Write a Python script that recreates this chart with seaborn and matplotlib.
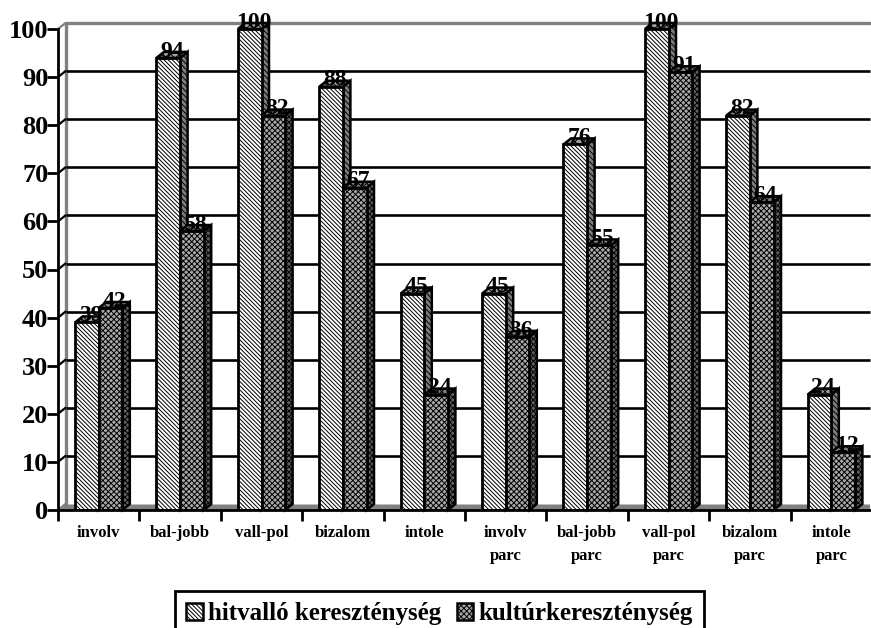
import matplotlib
matplotlib.use("Agg")
import matplotlib.pyplot as plt
from matplotlib.patches import Polygon
import pandas as pd
import seaborn as sns

categories = ["involv", "bal-jobb", "vall-pol", "bizalom", "intole",
              "involv\nparc", "bal-jobb\nparc", "vall-pol\nparc", "bizalom\nparc", "intole\nparc"]
series_names = ["hitvalló kereszténység", "kultúrkereszténység"]
hitvallo = [39, 94, 100, 88, 45, 45, 76, 100, 82, 24]
kultur = [42, 58, 82, 67, 24, 36, 55, 91, 64, 12]

sns.set_theme(style="white")
plt.rcParams["font.family"] = ["Liberation Serif", "DejaVu Serif"]
plt.rcParams["font.weight"] = "bold"
plt.rcParams["hatch.linewidth"] = 0.7
plt.rcParams["text.color"] = "black"

df = pd.DataFrame({
    "cat": categories * 2,
    "val": hitvallo + kultur,
    "series": [series_names[0]] * 10 + [series_names[1]] * 10,
})

W, H = 871, 628
fig = plt.figure(figsize=(W / 100, H / 100), dpi=100, facecolor="white")
ax = fig.add_axes([58 / W, 1 - 510 / H, 814 / W, 481 / H])

sns.barplot(data=df, x="cat", y="val", hue="series", order=categories, hue_order=series_names,
            palette=["white", "#a8a8a8"], width=0.58, gap=0, dodge=True, saturation=1,
            edgecolor="black", linewidth=2, ax=ax, legend=True, zorder=4)

ax.set_xlim(-0.5, 9.5)
ax.set_ylim(0, 100)
ax.set_xlabel("")
ax.set_ylabel("")

dx = 7.5 / 81.4
dy = 6 / 4.81
gray = "#808080"
x_end = 9.47

# back wall, floor and gridlines
ax.fill_between([-0.5, -0.5 + dx, x_end, x_end], [0, dy, dy, 0], color=gray, zorder=1, lw=0)
for v in range(10, 100, 10):
    ax.plot([-0.5 + dx, x_end], [v + dy, v + dy], color="black", lw=1.9, zorder=1.5, solid_capstyle="butt")
    ax.plot([-0.5, -0.5 + dx], [v, v + dy], color="black", lw=1.6, zorder=1.6, clip_on=False)
ax.plot([-0.5 + dx, -0.5 + dx], [0 + dy, 100 + dy], color=gray, lw=2.4, zorder=1.4, clip_on=False)
ax.plot([-0.5 + dx, x_end], [100 + dy, 100 + dy], color=gray, lw=2.4, zorder=1.4, clip_on=False)
ax.plot([-0.5, -0.5 + dx], [100, 100 + dy], color=gray, lw=1.6, zorder=1.4, clip_on=False)
ax.plot([-0.5, -0.5 + dx], [0, dy], color=gray, lw=1.6, zorder=1.4, clip_on=False)

styles = [
    dict(front=("white", "\\" * 8), side=("#7c7c7c", "\\" * 6), top=("#a0a0a0", "x" * 4), z=3),
    dict(front=("#a8a8a8", "x" * 6), side=("#606060", "x" * 6), top=("#808080", "x" * 4), z=4),
]
for container, st in zip(ax.containers, styles):
    for bar in container:
        x0, w, h = bar.get_x(), bar.get_width(), bar.get_height()
        x1 = x0 + w
        bar.set_facecolor(st["front"][0])
        bar.set_hatch(st["front"][1])
        bar.set_zorder(st["z"] + 0.5)
        side = Polygon([(x1, 0), (x1 + dx, dy), (x1 + dx, h + dy), (x1, h)], closed=True,
                       facecolor=st["side"][0], hatch=st["side"][1], edgecolor="black", lw=1.8,
                       zorder=st["z"], clip_on=False)
        top = Polygon([(x0, h), (x0 + dx, h + dy), (x1 + dx, h + dy), (x1, h)], closed=True,
                      facecolor=st["top"][0], hatch=st["top"][1], edgecolor="black", lw=1.8,
                      zorder=st["z"], clip_on=False)
        ax.add_patch(side)
        ax.add_patch(top)
        ax.text(x0 + w / 2 + dx / 2, h + 1.4, f"{h:.0f}", ha="center", va="center",
                fontsize=17, fontweight="bold", color="black", zorder=8, clip_on=False)

# axes and ticks
for name, sp in ax.spines.items():
    sp.set_visible(name in ("left", "bottom"))
    sp.set_color("black")
    sp.set_linewidth(2)
    sp.set_zorder(7)
ax.set_yticks(range(0, 101, 10))
ax.tick_params(axis="y", which="major", left=True, length=8, width=2, color="black",
               labelsize=19, pad=-1, labelcolor="black")
centers = list(range(10))
ax.set_xticks(centers, categories)
ax.set_xticks([c - 0.5 for c in centers] + [9.5], minor=True)
ax.tick_params(axis="x", which="major", length=0, labelsize=12, pad=11, labelcolor="black")
ax.tick_params(axis="x", which="minor", bottom=True, length=8, width=2, color="black")
for lab in ax.get_xticklabels() + ax.get_yticklabels():
    lab.set_fontweight("bold")
for lab in ax.get_xticklabels():
    lab.set_linespacing(1.6)

# legend, cut by the figure's bottom edge as in the source
handles, labels = ax.get_legend_handles_labels()
ax.get_legend().remove()
leg = fig.legend(handles, labels, ncol=2, loc="upper left", bbox_to_anchor=(175 / W, 1 - 591 / H),
                 bbox_transform=fig.transFigure, fontsize=18, frameon=True, fancybox=False,
                 edgecolor="black", facecolor="white", framealpha=1, borderpad=0.45,
                 handlelength=0.65, handleheight=0.7, handletextpad=0.2, columnspacing=0.65,
                 borderaxespad=0, labelcolor="black")
leg.get_frame().set_linewidth(2)
for h, st in zip(leg.legend_handles, styles):
    h.set_facecolor(st["front"][0])
    h.set_hatch(st["front"][1])
    h.set_edgecolor("black")
    h.set_linewidth(1.8)

fig.savefig("out.png", dpi=100)
